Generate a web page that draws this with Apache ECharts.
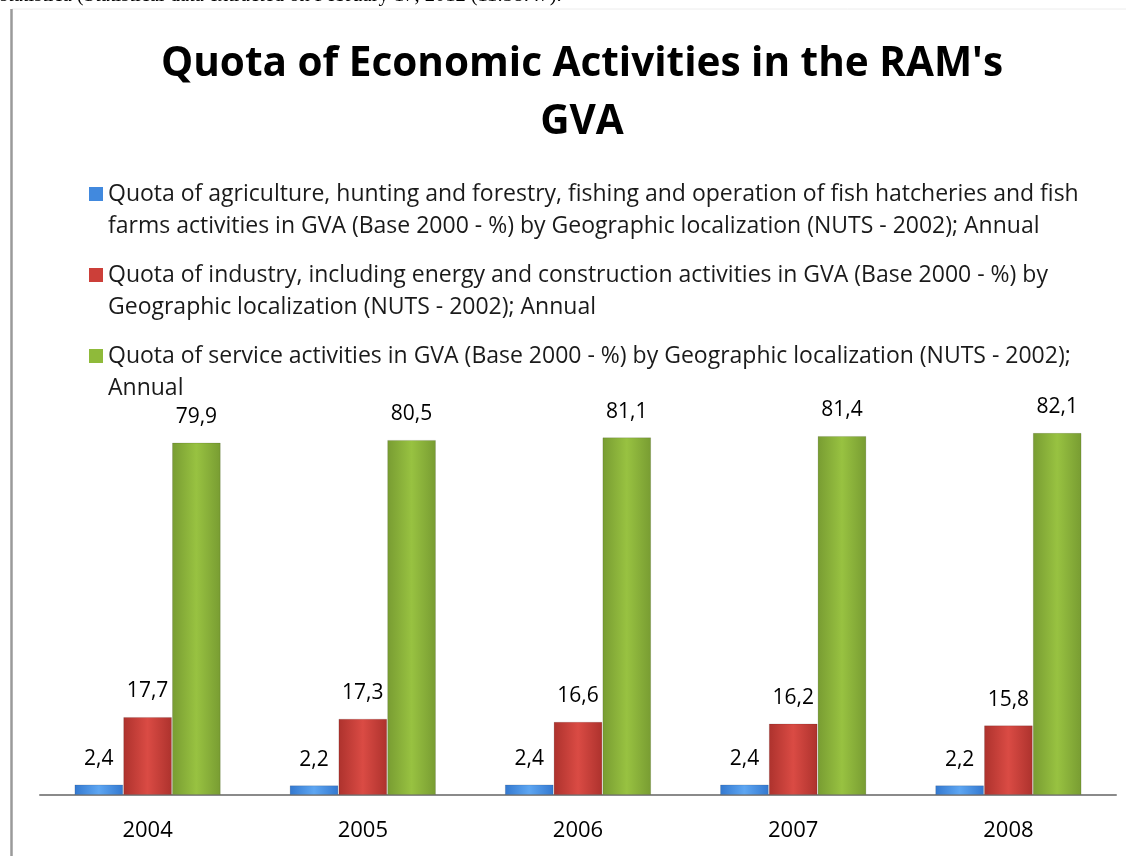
<!DOCTYPE html>
<html>
<head>
<meta charset="utf-8">
<title>Quota of Economic Activities in the RAM's GVA</title>
<script src="https://cdn.jsdelivr.net/npm/echarts@6/dist/echarts.min.js"></script>
<style>
  html, body { margin: 0; padding: 0; background: #ffffff; }
  #chart { width: 1126px; height: 856px; }
</style>
</head>
<body>
<div id="chart"></div>
<script>
// Years shown on the category axis
const years = ['2004', '2005', '2006', '2007', '2008'];

// Shares of each sector in gross value added (%)
const agriculture = [2.4, 2.2, 2.4, 2.4, 2.2];
const industry = [17.7, 17.3, 16.6, 16.2, 15.8];
const services = [79.9, 80.5, 81.1, 81.4, 82.1];

// Legend entries, wrapped the way they are laid out
const seriesNames = [
  'Quota of agriculture, hunting and forestry, fishing and operation of fish hatcheries and fish\nfarms activities in GVA (Base 2000 - %) by Geographic localization (NUTS - 2002); Annual',
  'Quota of industry, including energy and construction activities in GVA (Base 2000 - %) by\nGeographic localization (NUTS - 2002); Annual',
  'Quota of service activities in GVA (Base 2000 - %) by Geographic localization (NUTS - 2002);\nAnnual'
];

const chartTitle = "Quota of Economic Activities in the RAM's\nGVA";
const sourceNote = 'statistica (Statistical data extracted on February 17, 2012 (11:38:47).';

const FONT = '"Open Sans", "Noto Sans", sans-serif';

// Horizontal shading so the bars look rounded
function shade(edge, mid) {
  return {
    type: 'linear', x: 0, y: 0, x2: 1, y2: 0,
    colorStops: [
      { offset: 0, color: edge },
      { offset: 0.5, color: mid },
      { offset: 1, color: edge }
    ]
  };
}

const palettes = [
  { icon: '#4189de', fill: shade('#3378cf', '#5ea6f2') },
  { icon: '#cc3f39', fill: shade('#ad322d', '#da4b44') },
  { icon: '#8fba3a', fill: shade('#789c32', '#98c241') }
];

// Legend marker: a square beside the first text line; the two empty
// sub-paths only stretch the marker box to the height of two lines
const legendIcon = 'path://M0,0L0,0Z M0,9h14v14h-14z M14,64L14,64Z';

function valueLabel(p) {
  return p.value.toFixed(1).replace('.', ',');
}

const seriesData = [agriculture, industry, services];

const chart = echarts.init(document.getElementById('chart'), null, { renderer: 'canvas' });

chart.setOption({
  backgroundColor: '#ffffff',
  animation: false,
  title: {
    text: chartTitle,
    left: 577,
    textAlign: 'center',
    top: 30,
    textStyle: {
      fontFamily: FONT,
      fontWeight: 'bold',
      fontSize: 40.5,
      lineHeight: 58,
      color: '#000000'
    }
  },
  legend: {
    orient: 'vertical',
    left: 84,
    top: 173,
    itemWidth: 14,
    itemHeight: 64,
    itemGap: 17,
    icon: legendIcon,
    selectedMode: false,
    itemStyle: { borderWidth: 0 },
    data: seriesNames.map(function (n, i) {
      return { name: n, itemStyle: { color: palettes[i].icon, borderWidth: 0 } };
    }),
    textStyle: {
      fontFamily: FONT,
      fontSize: 23,
      lineHeight: 32,
      color: '#1a1a1a'
    }
  },
  grid: {
    left: 40,
    right: 10,
    top: 398,
    bottom: 61,
    containLabel: false
  },
  xAxis: {
    type: 'category',
    data: years,
    axisLine: { show: true, lineStyle: { color: '#8a8a8a', width: 2 } },
    axisTick: { show: false },
    axisLabel: {
      fontFamily: FONT,
      fontSize: 22,
      color: '#000000',
      margin: 25
    },
    splitLine: { show: false }
  },
  yAxis: {
    type: 'value',
    min: 0,
    max: 90,
    show: false,
    splitLine: { show: false }
  },
  series: seriesData.map(function (vals, i) {
    return {
      name: seriesNames[i],
      type: 'bar',
      data: vals,
      barGap: '0%',
      barCategoryGap: '32%',
      itemStyle: {
        color: palettes[i].fill,
        borderColor: 'rgba(0,0,0,0.12)',
        borderWidth: 1
      },
      label: {
        show: true,
        position: 'top',
        distance: 15,
        formatter: valueLabel,
        fontFamily: FONT,
        fontSize: 21,
        color: '#000000'
      }
    };
  }),
  graphic: [
    {
      type: 'text',
      left: 0,
      top: -15,
      silent: true,
      style: {
        text: sourceNote,
        fontFamily: '"Liberation Serif", "DejaVu Serif", serif',
        fontSize: 20.5,
        fill: '#000000'
      }
    },
    {
      type: 'line',
      silent: true,
      shape: { x1: 12, y1: 9, x2: 1126, y2: 9 },
      style: { stroke: '#ececec', lineWidth: 1 }
    },
    {
      type: 'line',
      silent: true,
      shape: { x1: 11.5, y1: 9, x2: 11.5, y2: 856 },
      style: { stroke: '#9a9a9a', lineWidth: 2.5 }
    }
  ]
});
</script>
</body>
</html>
